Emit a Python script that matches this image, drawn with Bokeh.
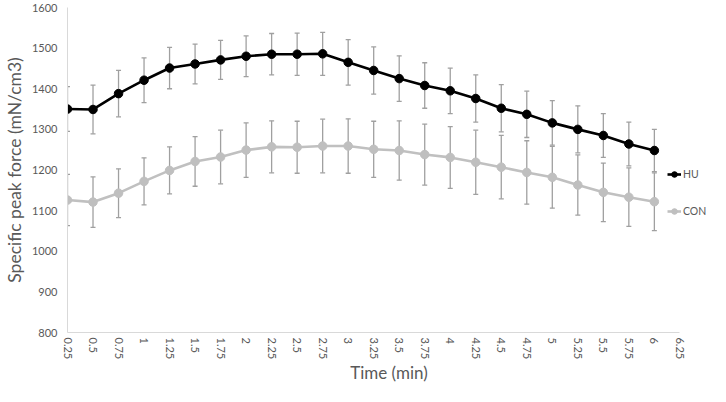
import math
from bokeh.plotting import figure
from bokeh.models import (ColumnDataSource, Range1d, FixedTicker, Whisker, TeeHead,
                          Legend, LegendItem)
from bokeh.embed import file_html
from bokeh.resources import INLINE

# ---- data ----
time_min = [0.25, 0.5, 0.75, 1.0, 1.25, 1.5, 1.75, 2.0, 2.25, 2.5, 2.75, 3.0,
            3.25, 3.5, 3.75, 4.0, 4.25, 4.5, 4.75, 5.0, 5.25, 5.5, 5.75, 6.0]
hu_mean = [1350, 1349, 1388, 1421, 1451, 1461, 1471, 1480, 1485, 1485, 1486, 1465,
           1445, 1425, 1408, 1395, 1376, 1352, 1337, 1316, 1300, 1285, 1264, 1248]
hu_err = [55, 60, 57, 55, 51, 49, 48, 50, 51, 52, 53, 56,
          58, 56, 56, 56, 58, 58, 57, 55, 58, 54, 54, 52]
con_mean = [1126, 1121, 1143, 1172, 1199, 1221, 1232, 1249, 1257, 1256, 1259, 1259,
            1251, 1248, 1238, 1231, 1219, 1207, 1194, 1182, 1163, 1145, 1133, 1122]
con_err = [63, 62, 60, 58, 58, 61, 66, 67, 64, 64, 66, 67,
           69, 73, 75, 76, 79, 78, 78, 76, 74, 72, 72, 71]
x_tick_values = [0.25, 0.5, 0.75, 1.0, 1.25, 1.5, 1.75, 2.0, 2.25, 2.5, 2.75, 3.0, 3.25,
                 3.5, 3.75, 4.0, 4.25, 4.5, 4.75, 5.0, 5.25, 5.5, 5.75, 6.0, 6.25]
x_tick_labels = ["0.25", "0.5", "0.75", "1", "1.25", "1.5", "1.75", "2", "2.25", "2.5",
                 "2.75", "3", "3.25", "3.5", "3.75", "4", "4.25", "4.5", "4.75", "5",
                 "5.25", "5.5", "5.75", "6", "6.25"]
y_ticks = [800, 900, 1000, 1100, 1200, 1300, 1400, 1500, 1600]

FONT = "Lato"
TXT = "#595959"
AXIS = "#D9D9D9"
ERR = "#A0A0A0"
X_PAD_RIGHT = 0.30   # room inside the frame for the legend

hu_src = ColumnDataSource(dict(
    x=time_min, y=hu_mean,
    lo=[m - e for m, e in zip(hu_mean, hu_err)],
    hi=[m + e for m, e in zip(hu_mean, hu_err)]))
con_src = ColumnDataSource(dict(
    x=time_min, y=con_mean,
    lo=[m - e for m, e in zip(con_mean, con_err)],
    hi=[m + e for m, e in zip(con_mean, con_err)]))

p = figure(width=710, height=386, output_backend="svg", toolbar_location=None,
           x_range=Range1d(x_tick_values[0], x_tick_values[-1] + X_PAD_RIGHT),
           y_range=Range1d(y_ticks[0], y_ticks[-1]),
           min_border_left=60, min_border_right=0, min_border_top=7,
           min_border_bottom=0)
p.outline_line_color = None
p.background_fill_color = "white"
p.grid.visible = False

# axes
p.xaxis.ticker = FixedTicker(ticks=x_tick_values)
p.xaxis.bounds = (x_tick_values[0], x_tick_values[-1])
p.xaxis.major_label_overrides = {v: l for v, l in zip(x_tick_values, x_tick_labels)}
p.xaxis.major_label_orientation = -math.pi / 2
p.yaxis.ticker = FixedTicker(ticks=y_ticks)
for ax in (p.xaxis, p.yaxis):
    ax.axis_line_color = AXIS
    ax.axis_line_width = 1
    ax.major_tick_line_color = None
    ax.major_tick_out = 0
    ax.major_tick_in = 0
    ax.minor_tick_line_color = None
    ax.minor_tick_out = 0
    ax.minor_tick_in = 0
    ax.major_label_text_font = FONT
    ax.major_label_text_font_size = "11px"
    ax.major_label_text_color = TXT
    ax.axis_label_text_font = FONT
    ax.axis_label_text_color = TXT
    ax.axis_label_text_font_style = "normal"
p.xaxis.axis_label_text_font_size = "17px"
p.yaxis.axis_label_text_font_size = "17.5px"
p.xaxis.axis_label = "Time (min)"
p.yaxis.axis_label = "Specific peak force (mN/cm3)"
p.xaxis.major_label_standoff = 5
p.yaxis.major_label_standoff = 10
p.xaxis.axis_label_standoff = 0
p.yaxis.axis_label_standoff = 4

# error bars
for src in (hu_src, con_src):
    w = Whisker(source=src, base="x", lower="lo", upper="hi",
                line_color=ERR, line_width=1.3, level="underlay",
                lower_head=TeeHead(size=5, line_color=ERR, line_width=1.3),
                upper_head=TeeHead(size=5, line_color=ERR, line_width=1.3))
    p.add_layout(w)

con_line = p.line("x", "y", source=con_src, line_color="#C0C0C0", line_width=2.6)
con_pts = p.scatter("x", "y", source=con_src, size=8.5, fill_color="#BFBFBF",
                    line_color="#BFBFBF")
hu_line = p.line("x", "y", source=hu_src, line_color="black", line_width=2.6)
hu_pts = p.scatter("x", "y", source=hu_src, size=8.5, fill_color="black",
                   line_color="black")

legend = Legend(items=[LegendItem(label="HU", renderers=[hu_line, hu_pts]),
                       LegendItem(label="CON", renderers=[con_line, con_pts])],
                location=(600, 111), orientation="vertical",
                padding=0, margin=0, spacing=17, glyph_width=14, glyph_height=20,
                label_standoff=2, label_text_font=FONT, label_text_font_size="10.5px",
                label_text_color=TXT, background_fill_alpha=0,
                border_line_color=None)
p.add_layout(legend)

open("out.html", "w").write(file_html(p, INLINE))
